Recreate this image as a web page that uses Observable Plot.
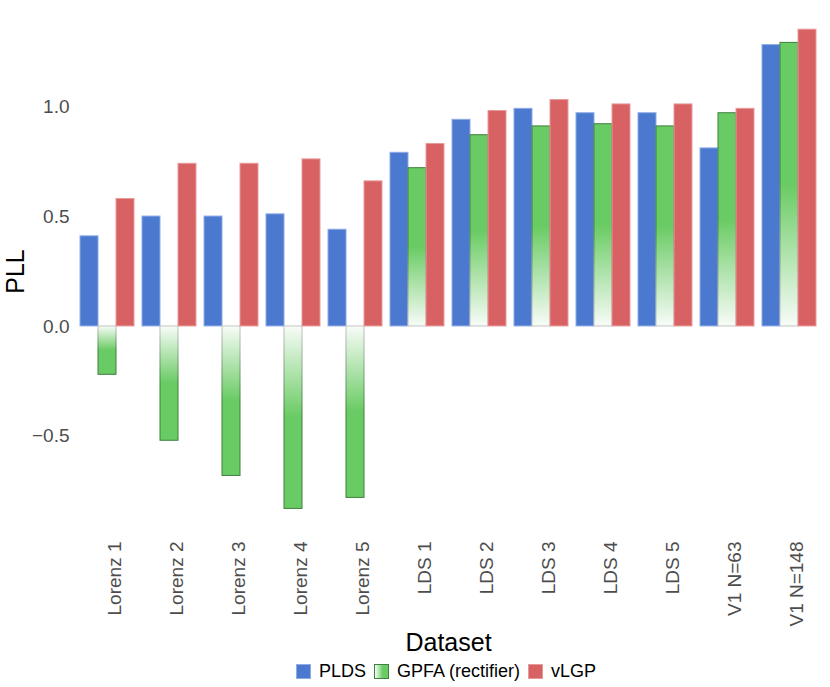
<!DOCTYPE html>
<html>
<head>
<meta charset="utf-8">
<script src="https://cdn.jsdelivr.net/npm/d3@7"></script>
<script src="https://cdn.jsdelivr.net/npm/@observablehq/plot@0.6"></script>
<style>
  body { margin: 0; background: #fff; font-family: "Liberation Sans", Arial, sans-serif; }
  #chart svg { display: block; font-family: "Liberation Sans", Arial, sans-serif; }
  [aria-label="y-axis label"], [aria-label="y-axis label"] text,
  [aria-label="fx-axis label"], [aria-label="fx-axis label"] text {
    font-size: 25px !important; fill: #000 !important;
  }
  .legend { display: flex; justify-content: center; align-items: center; font-size: 18px; line-height: 20px; color: #000; margin-top: -1px; padding-left: 62px; }
  .legend .item { display: flex; align-items: center; margin: 0 4px; }
  .legend .sw { width: 15px; height: 15px; margin-right: 8px; box-sizing: border-box; }
</style>
</head>
<body>
<div id="chart"></div>
<div class="legend" id="legend"></div>
<script>
const datasets = ["Lorenz 1", "Lorenz 2", "Lorenz 3", "Lorenz 4", "Lorenz 5",
  "LDS 1", "LDS 2", "LDS 3", "LDS 4", "LDS 5", "V1 N=63", "V1 N=148"];
const methods = ["PLDS", "GPFA (rectifier)", "vLGP"];
const pldsValues = [0.41, 0.50, 0.50, 0.51, 0.44, 0.79, 0.94, 0.99, 0.97, 0.97, 0.81, 1.28];
const gpfaValues = [-0.22, -0.52, -0.68, -0.83, -0.78, 0.72, 0.87, 0.91, 0.92, 0.91, 0.97, 1.29];
const vlgpValues = [0.58, 0.74, 0.74, 0.76, 0.66, 0.83, 0.98, 1.03, 1.01, 1.01, 0.99, 1.35];
const yTicks = [-0.5, 0, 0.5, 1.0];
const colors = ["#4a79cf", "#69cb63", "#d76163"];
const strokes = ["#8fabe6", "#3f7f3f", "#e89a9b"];

const rows = datasets.flatMap((d, i) => [
  {dataset: d, method: methods[0], value: pldsValues[i]},
  {dataset: d, method: methods[1], value: gpfaValues[i]},
  {dataset: d, method: methods[2], value: vlgpValues[i]}
]);

const common = {fx: "dataset", x: "method", y: "value"};

const plot = Plot.plot({
  width: 830,
  height: 662,
  marginTop: 27,
  marginLeft: 76,
  marginRight: 10,
  marginBottom: 147,
  style: {fontFamily: "Liberation Sans, Arial, sans-serif"},
  fx: {domain: datasets, paddingInner: 0.1, paddingOuter: 0.05},
  x: {domain: methods, padding: 0, axis: null},
  y: {domain: [-0.86, 1.36]},
  marks: [
    Plot.barY(rows.filter(r => r.method === methods[0]), {...common, fill: colors[0], stroke: strokes[0], strokeWidth: 1}),
    Plot.barY(rows.filter(r => r.method === methods[1] && r.value >= 0), {...common, fill: "url(#gpfa-pos)", stroke: "url(#gpfa-pos-s)", strokeWidth: 1}),
    Plot.barY(rows.filter(r => r.method === methods[1] && r.value < 0), {...common, fill: "url(#gpfa-neg)", stroke: "url(#gpfa-neg-s)", strokeWidth: 1}),
    Plot.barY(rows.filter(r => r.method === methods[2]), {...common, fill: colors[2], stroke: strokes[2], strokeWidth: 1}),
    Plot.axisY(yTicks, {
      tickSize: 0, tickPadding: 10, fontSize: 19, fill: "#4d4d4d",
      tickFormat: d3.format(".1f"), label: "PLL", labelAnchor: "center", labelArrow: "none"
    }),
    Plot.axisFx({
      anchor: "bottom", tickRotate: -90, tickSize: 0, tickPadding: 26, fontSize: 19, fill: "#4d4d4d",
      dx: 7, label: "Dataset", labelAnchor: "center", labelOffset: 135
    })
  ]
});

// gradient definitions for GPFA bars
const NS = "http://www.w3.org/2000/svg";
const svg = plot.tagName.toLowerCase() === "svg" ? plot : plot.querySelector("svg");
const defs = document.createElementNS(NS, "defs");
function grad(id, y1, y2, c0, c1) {
  const g = document.createElementNS(NS, "linearGradient");
  g.setAttribute("id", id);
  g.setAttribute("x1", "0"); g.setAttribute("x2", "0");
  g.setAttribute("y1", y1); g.setAttribute("y2", y2);
  [[0, c0], [0.5, c1], [1, c1]].forEach(([o, c]) => {
    const s = document.createElementNS(NS, "stop");
    s.setAttribute("offset", o);
    s.setAttribute("stop-color", c);
    g.appendChild(s);
  });
  defs.appendChild(g);
}
grad("gpfa-pos", "1", "0", "#f8fcf8", colors[1]);
grad("gpfa-neg", "0", "1", "#f8fcf8", colors[1]);
grad("gpfa-pos-s", "1", "0", "#c4c4c4", strokes[1]);
grad("gpfa-neg-s", "0", "1", "#c4c4c4", strokes[1]);
svg.insertBefore(defs, svg.firstChild);

document.getElementById("chart").appendChild(plot);

// legend
const legend = document.getElementById("legend");
const swatchStyles = [
  `background:${colors[0]};border:1px solid ${strokes[0]}`,
  `background:linear-gradient(to right,#f8fcf8,${colors[1]} 60%);border:1px solid ${strokes[1]}`,
  `background:${colors[2]};border:1px solid ${strokes[2]}`
];
methods.forEach((m, i) => {
  const item = document.createElement("div");
  item.className = "item";
  const sw = document.createElement("div");
  sw.className = "sw";
  sw.setAttribute("style", swatchStyles[i]);
  const t = document.createElement("span");
  t.textContent = m;
  item.appendChild(sw);
  item.appendChild(t);
  legend.appendChild(item);
});
</script>
</body>
</html>
